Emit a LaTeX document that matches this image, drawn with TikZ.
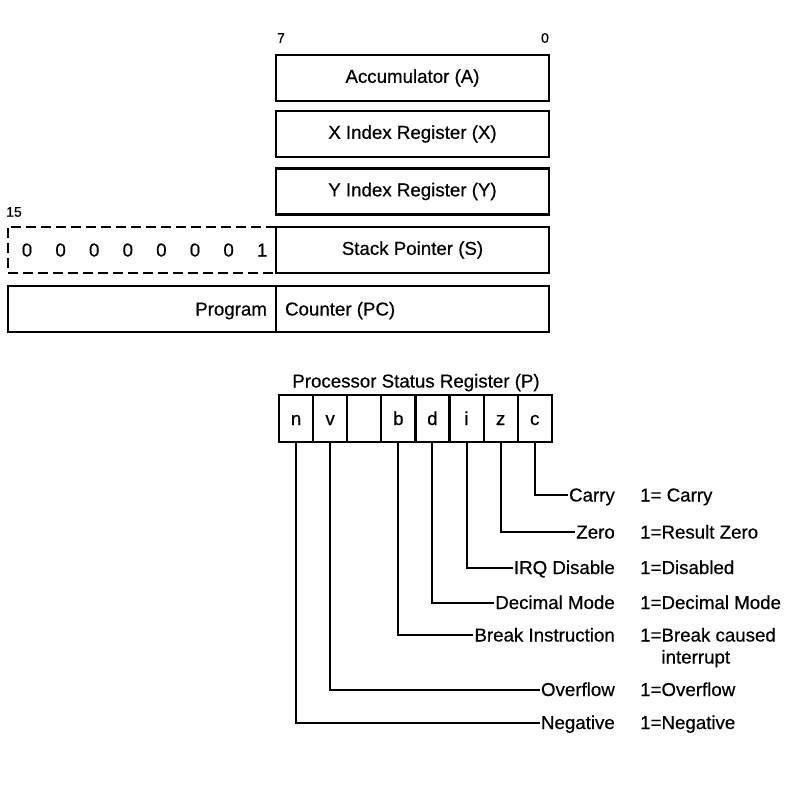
\documentclass[tikz,border=0pt]{standalone}
\usepackage{fontspec}
\setmainfont[FakeBold=0.5]{Liberation Sans}
\begin{document}
\begin{tikzpicture}[x=1pt,y=-1pt,
  font=\fontsize{18.7}{22}\selectfont,
  reg/.style={draw, line width=2.3pt, minimum height=46pt, inner sep=0pt},
  flag/.style={draw, line width=2.2pt, minimum width=34.1pt, minimum height=47pt, inner sep=0pt, text height=13pt, text depth=0pt},
  txt/.style={inner sep=1pt, text height=13pt, text depth=0pt},
  bitno/.style={inner sep=0pt, font=\fontsize{14}{16}\selectfont},
  conn/.style={line width=2pt},
  dashedbox/.style={line width=2.3pt, dash pattern=on 10pt off 5pt}]
\useasboundingbox (0,0) rectangle (789,786);

% bit numbers
\node[bitno] (b7) at (281,38) {7};
\node[bitno] (b0) at (545,38) {0};
\node[bitno] (b15) at (14,212) {15};

% 8-bit registers
\node[reg, minimum width=273pt] (acc) at (412.5,78) {Accumulator (A)};
\node[reg, minimum width=273pt] (xr) at (412.5,134) {X Index Register (X)};
\node[reg, minimum width=273pt] (yr) at (412.5,191.5) {Y Index Register (Y)};
\node[reg, minimum width=273pt] (sp) at (412.5,250) {Stack Pointer (S)};

% stack pointer high byte (dashed)
\node[minimum width=268pt, minimum height=46pt, inner sep=0pt] (sphi) at (142,250) {};
\draw[dashedbox] (sphi.north east) -- (sphi.north west) -- (sphi.south west) -- (sphi.south east);
\foreach \i/\d in {0/0,1/0,2/0,3/0,4/0,5/0,6/0,7/1}{
  \node[txt] (spd\i) at (27+33.6*\i,250) {\d};
}

% program counter
\node[reg, minimum width=268pt] (pchi) at (142,309) {};
\node[reg, minimum width=273pt] (pclo) at (412.5,309) {};
\node[txt, anchor=east] (pcl) at ([xshift=-9pt]pchi.east) {Program};
\node[txt, anchor=west] (pcr) at ([xshift=9pt]pclo.west) {Counter (PC)};

% processor status register
\node[txt] (ptitle) at (416,381) {Processor Status Register (P)};
\foreach \i/\f in {0/n,1/v,2/,3/b,4/d,5/i,6/z,7/c}{
  \node[flag] (f\i) at (296.05+34.1*\i,418.5) {\f};
}

% flag descriptions
\node[txt, anchor=east] (lc) at (616,495) {Carry};
\node[txt, anchor=east] (lz) at (616,532) {Zero};
\node[txt, anchor=east] (li) at (616,567.5) {IRQ Disable};
\node[txt, anchor=east] (ld) at (616,602.5) {Decimal Mode};
\node[txt, anchor=east] (lb) at (616,635) {Break Instruction};
\node[txt, anchor=east] (lv) at (616,689.5) {Overflow};
\node[txt, anchor=east] (ln) at (616,722.5) {Negative};

\node[txt, anchor=west] (vc) at (639,495) {1= Carry};
\node[txt, anchor=west] (vz) at (639,532) {1=Result Zero};
\node[txt, anchor=west] (vi) at (639,567.5) {1=Disabled};
\node[txt, anchor=west] (vd) at (639,602.5) {1=Decimal Mode};
\node[txt, anchor=west] (vb) at (639,635) {1=Break caused};
\node[txt, anchor=west] (vb2) at (639,657) {\phantom{1=}interrupt};
\node[txt, anchor=west] (vv) at (639,689.5) {1=Overflow};
\node[txt, anchor=west] (vn) at (639,722.5) {1=Negative};

% connectors
\draw[conn] (f7.south) |- (lc.west);
\draw[conn] (f6.south) |- (lz.west);
\draw[conn] (f5.south) |- (li.west);
\draw[conn] (f4.south) |- (ld.west);
\draw[conn] (f3.south) |- (lb.west);
\draw[conn] (f1.south) |- (lv.west);
\draw[conn] (f0.south) |- (ln.west);
\end{tikzpicture}
\end{document}
